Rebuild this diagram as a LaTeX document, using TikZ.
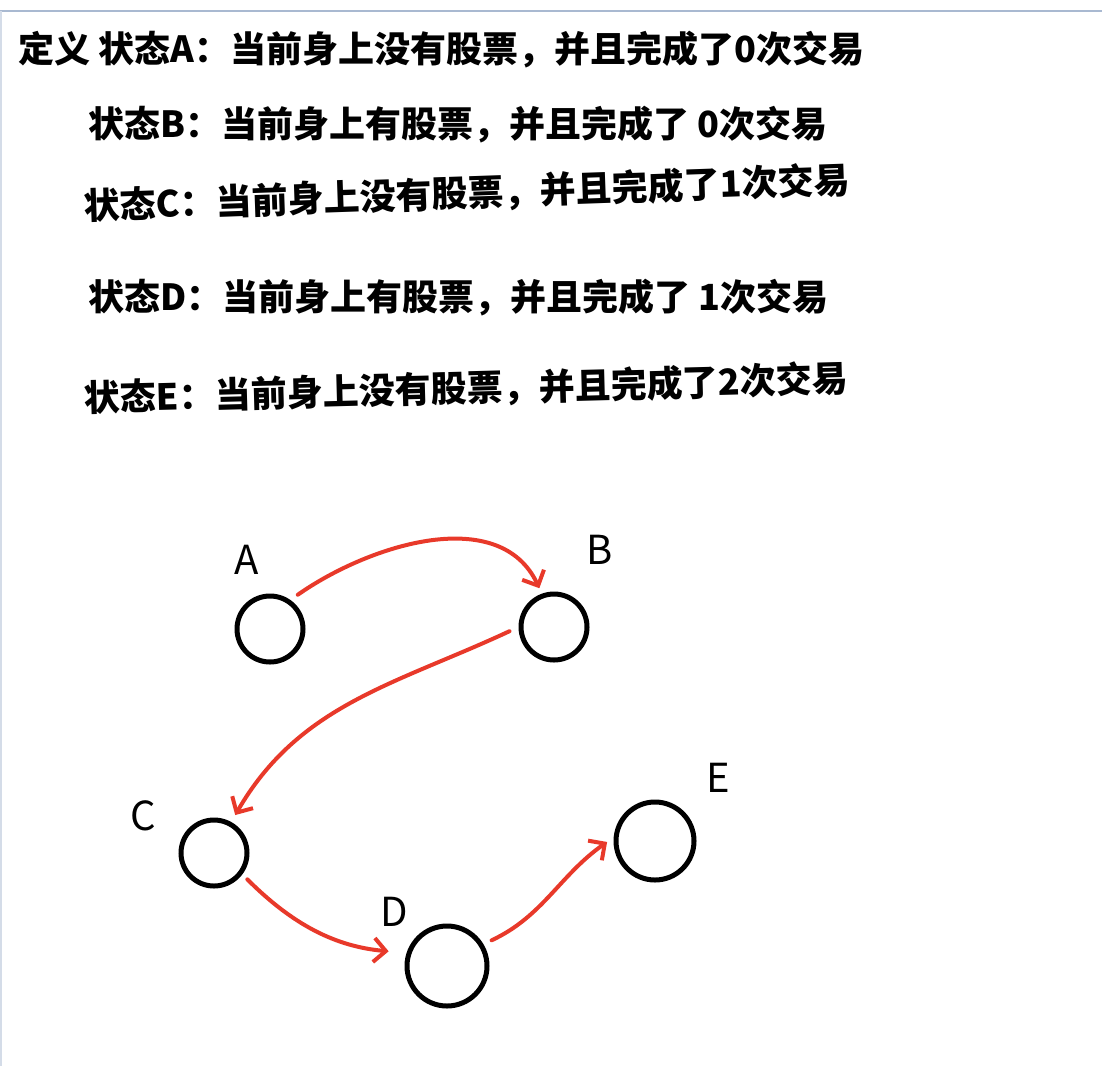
\documentclass[tikz,border=0pt]{standalone}
\usepackage{fontspec}
\newfontfamily\cjk{Noto Sans CJK SC}
\usetikzlibrary{arrows.meta}
\definecolor{penred}{HTML}{E8392A}
\definecolor{framegray}{HTML}{A9B9D1}
\tikzset{
  state/.style={draw, circle, line width=5pt, inner sep=0pt},
  edge/.style={draw=penred, line width=4pt, line cap=round,
    -{Straight Barb[length=12pt,width=24pt,line width=4pt]}},
  rowtext/.style={anchor=west, inner sep=0pt, font=\cjk\bfseries\fontsize{36}{42}\selectfont},
  letter/.style={inner sep=0pt, font=\cjk\fontsize{40}{44}\selectfont}
}
\begin{document}
\begin{tikzpicture}[x=1pt,y=-1pt]
\useasboundingbox (0,0) rectangle (1102,1066);
% page edge
\draw[framegray, line width=2pt] (0,11) -- (1102,11);
\draw[framegray!50, line width=1.5pt] (0.75,11) -- (0.75,1066);
% definitions
\node[rowtext] (defA) at (18,50) {定义 状态A：当前身上没有股票，并且完成了0次交易};
\node[rowtext] (defB) at (88,125) {状态B：当前身上有股票，并且完成了 0次交易};
\node[rowtext, rotate=2] (defC) at (84,207) {状态C：当前身上没有股票，并且完成了1次交易};
\node[rowtext] (defD) at (88,298) {状态D：当前身上有股票，并且完成了 1次交易};
\node[rowtext, rotate=1.5] (defE) at (84,399) {状态E：当前身上没有股票，并且完成了2次交易};
% states
\node[state, minimum size=66pt] (A) at (270,629) {};
\node[state, minimum size=66pt] (B) at (554,627) {};
\node[state, minimum size=66pt] (C) at (214,853) {};
\node[state, minimum size=80pt] (D) at (447,966) {};
\node[state, minimum size=78pt] (E) at (655,841) {};
\node[letter] (labA) at (247,560) {A};
\node[letter] (labB) at (600,550) {B};
\node[letter] (labC) at (143,816) {C};
\node[letter] (labD) at (394,912) {D};
\node[letter] (labE) at (718,778) {E};
% transitions
\draw[edge, shorten <=9pt, shorten >=6pt] (A.55) to[out=35,in=115] (B.110);
\draw[edge, shorten <=10pt, shorten >=8pt] (B.180) to[out=205,in=60] (C.61);
\draw[edge, shorten <=7pt, shorten >=18pt] (C.-37) to[out=-45,in=175] (D.162);
\draw[edge, shorten <=9pt, shorten >=8pt] (D.31) to[out=25,in=215] (E.175);
\end{tikzpicture}
\end{document}
